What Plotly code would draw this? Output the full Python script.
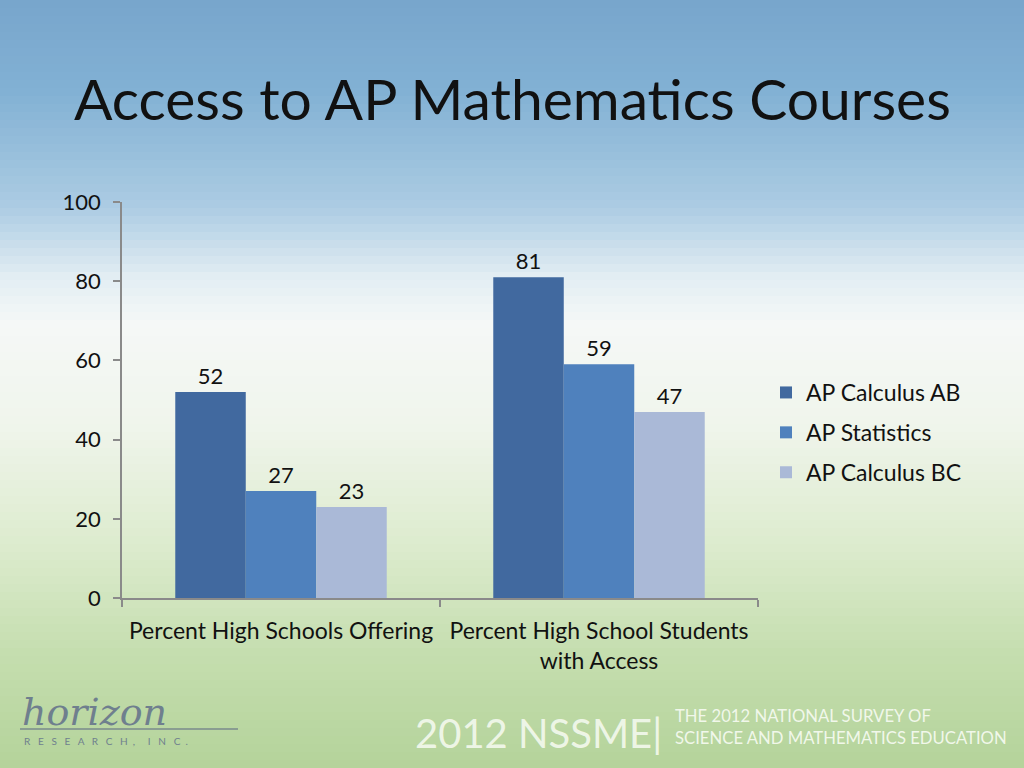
import plotly.graph_objects as go

categories = ["Percent High Schools Offering", "Percent High School Students<br>with Access"]
series_names = ["AP Calculus AB", "AP Statistics", "AP Calculus BC"]
calc_ab = [52, 81]
statistics = [27, 59]
calc_bc = [23, 47]
y_ticks = [0, 20, 40, 60, 80, 100]

colors = ["#41699f", "#4f81bd", "#aab9d7"]
FONT = "Lato, Noto Sans, sans-serif"

fig = go.Figure()
for name, vals, col in zip(series_names, [calc_ab, statistics, calc_bc], colors):
    fig.add_trace(go.Bar(
        name=name, x=categories, y=vals, marker=dict(color=col, line=dict(width=0)),
        text=[str(v) for v in vals], textposition="outside", cliponaxis=False,
        textfont=dict(size=22, color="#111111", family=FONT), legendgroup=name,
    ))

# background gradient via strips
stops = [(0.0, (120, 166, 204)), (0.12, (130, 177, 212)), (0.27, (172, 204, 227)),
         (0.36, (226, 237, 243)), (0.42, (245, 248, 247)), (0.55, (240, 245, 236)),
         (0.70, (222, 236, 208)), (0.85, (197, 222, 175)), (1.0, (180, 211, 154))]

def interp(t):
    t = min(max(t, 0.0), 1.0)
    for (t0, c0), (t1, c1) in zip(stops[:-1], stops[1:]):
        if t0 <= t <= t1:
            f = (t - t0) / (t1 - t0) if t1 > t0 else 0
            return tuple(int(round(a + (b - a) * f)) for a, b in zip(c0, c1))
    return stops[-1][1]

shapes = []
N = 96
for i in range(N):
    t0 = i / N
    t1 = (i + 1) / N
    c = interp((t0 + t1) / 2)
    y1 = 1.05 if i == 0 else 1 - t0
    y0 = -0.05 if i == N - 1 else 1 - t1 - 0.002
    shapes.append(dict(type="rect", xref="paper", yref="paper", x0=-0.02, x1=1.02,
                       y0=y0, y1=y1, layer="below",
                       fillcolor="rgb(%d,%d,%d)" % c, line=dict(width=0)))
# logo underline
shapes.append(dict(type="line", xref="paper", yref="paper", x0=20/1024, x1=238/1024,
                   y0=1-729/768, y1=1-729/768, line=dict(color="#7a8a8c", width=1.5)))

annotations = [
    dict(text="Access to AP Mathematics Courses", x=72/1024, y=1-98/768, xref="paper", yref="paper",
         xanchor="left", yanchor="middle", showarrow=False,
         font=dict(size=57, color="#111111", family=FONT)),
    dict(text="<i>horizon</i>", x=20/1024, y=1-712/768, xref="paper", yref="paper",
         xanchor="left", yanchor="middle", showarrow=False,
         font=dict(size=38, color="#6f7f8e", family="DejaVu Serif")),
    dict(text="R   E   S   E   A   R   C   H  ,     I   N   C  .", x=22/1024, y=1-741/768,
         xref="paper", yref="paper", xanchor="left", yanchor="middle", showarrow=False,
         font=dict(size=10, color="#6f7f8e", family=FONT)),
    dict(text="2012 NSSME|", x=413/1024, y=1-733/768, xref="paper", yref="paper",
         xanchor="left", yanchor="middle", showarrow=False,
         font=dict(size=40, color="rgba(245,250,240,0.9)", family="Liberation Sans Narrow, " + FONT)),
    dict(text="THE 2012 NATIONAL SURVEY OF<br>SCIENCE AND MATHEMATICS EDUCATION", x=673/1024, y=1-727/768,
         xref="paper", yref="paper", xanchor="left", yanchor="middle", align="left", showarrow=False,
         font=dict(size=16.7, color="rgba(245,250,240,0.95)", family="Liberation Sans Narrow, " + FONT)),
]

fig.update_layout(
    template="none",
    width=1024, height=768, autosize=False, margin=dict(l=0, r=0, t=0, b=0, pad=0),
    paper_bgcolor="rgba(0,0,0,0)", plot_bgcolor="rgba(0,0,0,0)",
    barmode="group", bargap=0.335, bargroupgap=0,
    font=dict(family=FONT, color="#111111"),
    shapes=shapes, annotations=annotations,
    showlegend=True,
    legend=dict(x=766/1024, y=1-371/768, xanchor="left", yanchor="top",
                font=dict(size=23, color="#111111", family=FONT),
                bgcolor="rgba(0,0,0,0)", itemwidth=30, tracegroupgap=7, traceorder="grouped"),
    xaxis=dict(domain=[122/1024, 758/1024], showline=True, linecolor="#8a8a8a", linewidth=1.5,
               ticks="outside", tickson="boundaries", ticklen=7, tickcolor="#8a8a8a", tickwidth=1.5,
               tickfont=dict(size=23, color="#111111"), ticklabelstandoff=12,
               showgrid=False, automargin=False),
    yaxis=dict(domain=[1-598/768, 1-202/768], range=[0, 100], tickvals=y_ticks,
               showline=True, linecolor="#8a8a8a", linewidth=1.5, ticks="outside", ticklen=7,
               tickcolor="#8a8a8a", tickwidth=1.5, tickfont=dict(size=22, color="#111111"),
               ticklabelstandoff=8, showgrid=False, zeroline=False, automargin=False),
)

fig.write_html("out.html", config={"displayModeBar": False},
               post_script="document.body.style.margin='0';document.body.style.overflow='hidden';")
